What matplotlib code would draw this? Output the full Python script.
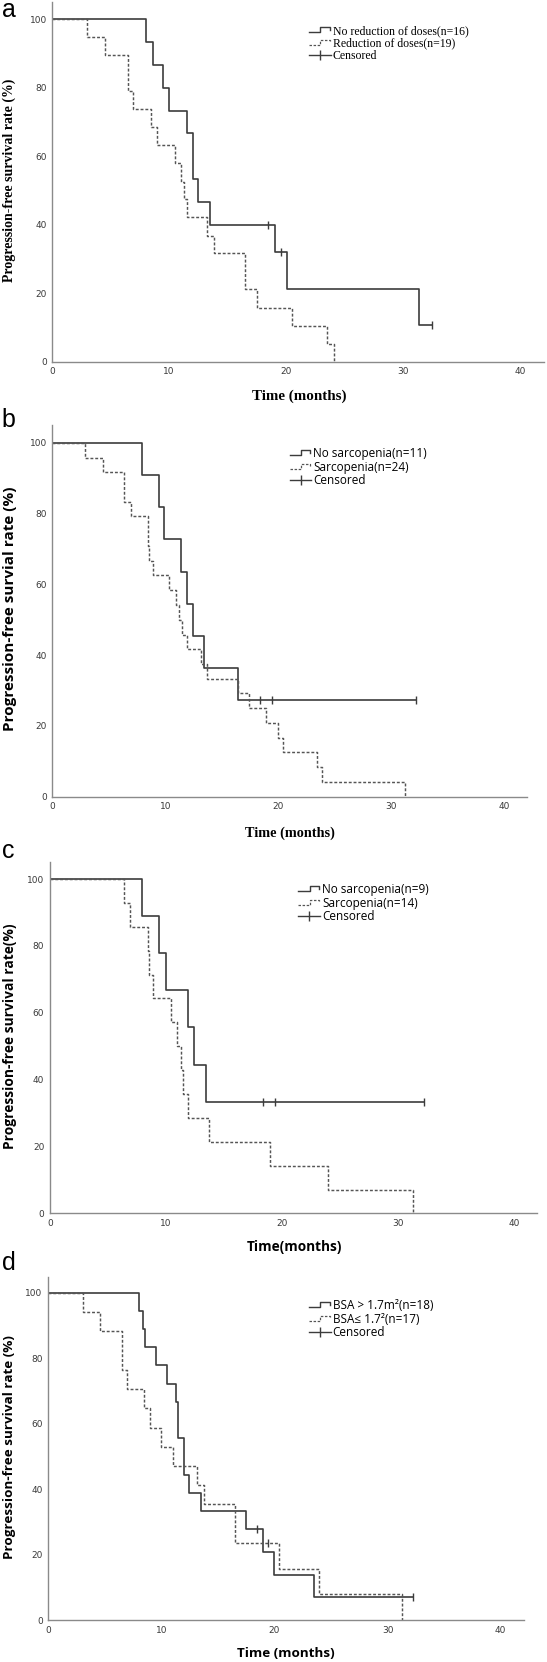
import numpy as np
import matplotlib
matplotlib.use("Agg")
import matplotlib.pyplot as plt
from matplotlib.lines import Line2D
from matplotlib.legend_handler import HandlerBase

# ---- data (months, % surviving) ----
a_solid_t = [0, 8.0, 8.6, 9.45, 10.0, 11.5, 12.0, 12.5, 13.5, 19.05, 20.06, 31.35, 32.45]
a_solid_s = [100, 93.3, 86.7, 80.0, 73.3, 66.7, 53.3, 46.7, 40.0, 32.0, 21.3, 10.7, 10.7]
a_solid_cens = [18.5, 19.55, 32.45]
a_dash_t = [0, 2.94, 4.55, 6.45, 6.93, 8.44, 8.98, 10.5, 11.0, 11.3, 11.5, 13.2, 13.8,
            16.5, 17.5, 20.5, 23.5, 24.1]
a_dash_s = [100, 94.7, 89.5, 78.9, 73.7, 68.4, 63.2, 57.9, 52.6, 47.4, 42.1, 36.8, 31.6,
            21.1, 15.8, 10.5, 5.3, 0]
a_dash_cens = []

b_solid_t = [0, 7.92, 9.44, 9.9, 11.4, 11.95, 12.42, 13.42, 16.4, 32.2]
b_solid_s = [100, 90.9, 81.8, 72.7, 63.6, 54.5, 45.5, 36.4, 27.3, 27.3]
b_solid_cens = [18.4, 19.4, 32.2]
b_dash_t = [0, 2.9, 4.52, 6.37, 6.94, 8.44, 8.56, 8.88, 10.36, 10.95, 11.25, 11.45, 11.9,
            13.13, 13.66, 16.4, 17.43, 18.9, 20.0, 20.45, 23.4, 23.9, 31.25]
b_dash_s = [100, 95.8, 91.7, 83.3, 79.2, 70.8, 66.7, 62.5, 58.3, 54.2, 50.0, 45.8, 41.7,
            37.5, 33.3, 29.2, 25.0, 20.8, 16.7, 12.5, 8.3, 4.2, 0]
b_dash_cens = []

c_solid_t = [0, 7.9, 9.42, 9.96, 11.91, 12.43, 13.4, 32.2]
c_solid_s = [100, 88.9, 77.8, 66.7, 55.6, 44.4, 33.3, 33.3]
c_solid_cens = [18.3, 19.4, 32.2]
c_dash_t = [0, 6.41, 6.9, 8.42, 8.53, 8.9, 10.42, 10.91, 11.25, 11.43, 11.91, 13.72,
            18.94, 23.93, 31.23]
c_dash_s = [100, 92.9, 85.7, 78.6, 71.4, 64.3, 57.1, 50.0, 42.9, 35.7, 28.6, 21.4,
            14.3, 7.1, 0]
c_dash_cens = []

d_solid_t = [0, 8.03, 8.41, 8.56, 9.53, 10.53, 11.3, 11.45, 11.98, 12.48, 13.48, 17.49,
             19.02, 19.96, 23.53, 32.28]
d_solid_s = [100, 94.4, 88.9, 83.3, 77.8, 72.2, 66.7, 55.6, 44.4, 38.9, 33.3, 27.8,
             20.8, 13.9, 6.9, 6.9]
d_solid_cens = [18.49, 32.28]
d_dash_t = [0, 3.05, 4.58, 6.5, 6.94, 8.47, 9.0, 9.97, 11.0, 13.18, 13.78, 16.52, 20.43,
            23.97, 31.31]
d_dash_s = [100, 94.1, 88.2, 76.5, 70.6, 64.7, 58.8, 52.9, 47.1, 41.2, 35.3, 23.5, 15.7,
            7.8, 0]
d_dash_cens = [19.46]

x_ticks = [0, 10, 20, 30, 40]
y_ticks = [0, 20, 40, 60, 80, 100]

a_labels = ["No reduction of doses(n=16)", "Reduction of doses(n=19)", "Censored"]
b_labels = ["No sarcopenia(n=11)", "Sarcopenia(n=24)", "Censored"]
c_labels = ["No sarcopenia(n=9)", "Sarcopenia(n=14)", "Censored"]
d_labels = ["BSA > 1.7m²(n=18)", "BSA≤ 1.7²(n=17)", "Censored"]

SERIF = ["Liberation Serif", "DejaVu Serif"]
SANS = ["Open Sans", "DejaVu Sans"]

W, H = 547, 1662
fig = plt.figure(figsize=(W / 100, H / 100), dpi=100)


def fx(px):
    return px / W


def fy(py):
    return 1 - py / H


class StepHandler(HandlerBase):
    # the little "_|~|" sample that SPSS puts in its survival legends
    def create_artists(self, legend, orig_handle, xdescent, ydescent, width, height,
                       fontsize, trans):
        xs = np.array([0, 0.52, 0.52, 0.95, 0.95]) * width - xdescent
        ys = np.array([0.2, 0.2, 0.8, 0.8, 0.5]) * height - ydescent
        ln = Line2D(xs, ys)
        ln.update_from(orig_handle)
        ln.set_marker("")
        ln.set_linewidth(orig_handle.get_linewidth() * 0.85)
        ln.set_transform(trans)
        return [ln]


def surv_at(t, s, x):
    idx = np.searchsorted(t, x, side="right") - 1
    return np.asarray(s)[idx]


def km_panel(rect, xmax, ymax, solid_t, solid_s, solid_c, dash_t, dash_s, dash_c,
             labels, leg_font, leg_size, leg_anchor, leg_hl):
    ax = fig.add_axes(rect)
    solid_col, dash_col = "#3c3c3c", "#555555"
    l1, = ax.step(solid_t, solid_s, where="post", color=solid_col, lw=1.2)
    l2, = ax.step(dash_t, dash_s, where="post", color=dash_col, lw=1.05,
                  linestyle=(0, (2.0, 1.3)))
    if solid_c:
        ax.plot(solid_c, surv_at(solid_t, solid_s, solid_c), linestyle="none",
                marker="|", ms=5.5, mew=1.0, color=solid_col)
    if dash_c:
        ax.plot(dash_c, surv_at(dash_t, dash_s, dash_c), linestyle="none",
                marker="|", ms=5.5, mew=1.0, color=solid_col)
    cens = Line2D([], [], color=solid_col, lw=1.0, marker="|", ms=7, mew=1.0)
    ax.set_xlim(0, xmax)
    ax.set_ylim(0, ymax)
    ax.set_xticks(x_ticks)
    ax.set_yticks(y_ticks)
    for sp in ["top", "right"]:
        ax.spines[sp].set_visible(False)
    for sp in ["left", "bottom"]:
        ax.spines[sp].set_color("#8a8a8a")
        ax.spines[sp].set_linewidth(1.0)
    ax.tick_params(length=0, pad=4, labelsize=6.5, labelcolor="#3a3a3a")
    ax.legend([l1, l2, cens], labels, loc="upper left",
              bbox_to_anchor=(fx(leg_anchor[0]), fy(leg_anchor[1])),
              bbox_transform=fig.transFigure, frameon=False, borderpad=0,
              borderaxespad=0, handlelength=leg_hl, handletextpad=0.15,
              labelspacing=0.05, numpoints=1,
              handler_map={l1: StepHandler(), l2: StepHandler()},
              prop={"family": leg_font, "size": leg_size})
    return ax


# panel a
km_panel([fx(52.3), fy(361.7), fx(492), 360 / H], 42.1, 105.1,
         a_solid_t, a_solid_s, a_solid_cens, a_dash_t, a_dash_s, a_dash_cens,
         a_labels, SERIF, 8.5, (309, 25), 1.85)
fig.text(fx(9.6), fy(180.8), "Progression-free survival rate (%)", rotation=90,
         ha="center", va="center", family=SERIF, weight="bold", size=10)
fig.text(fx(299), fy(396.7), "Time (months)", ha="center", va="center",
         family=SERIF, weight="bold", size=10.8)
fig.text(fx(1.7), fy(17), "a", ha="left", va="baseline", family="Liberation Sans", size=18)

# panel b
km_panel([fx(52.3), fy(796.7), fx(474.6), 371.7 / H], 42.0, 105.0,
         b_solid_t, b_solid_s, b_solid_cens, b_dash_t, b_dash_s, b_dash_cens,
         b_labels, SANS, 8.5, (289.6, 447), 1.85)
fig.text(fx(9.6), fy(609.2), "Progression-free survial rate (%)", rotation=90,
         ha="center", va="center", family=SANS, weight="bold", size=11)
fig.text(fx(289.6), fy(833.3), "Time (months)", ha="center", va="center",
         family=SERIF, weight="bold", size=10.3)
fig.text(fx(1.7), fy(427), "b", ha="left", va="baseline", family="Liberation Sans", size=18)

# panel c
km_panel([fx(49.9), fy(1213.3), fx(487.4), 351.6 / H], 41.95, 105.2,
         c_solid_t, c_solid_s, c_solid_cens, c_dash_t, c_dash_s, c_dash_cens,
         c_labels, SANS, 8.5, (298.3, 883), 1.85)
fig.text(fx(9.6), fy(1036.7), "Progression-free survival rate(%)", rotation=90,
         ha="center", va="center", family=SANS, weight="bold", size=9.9)
fig.text(fx(294.1), fy(1246.7), "Time(months)", ha="center", va="center",
         family=SANS, weight="bold", size=9.8)
fig.text(fx(1.7), fy(858), "c", ha="left", va="baseline", family="Liberation Sans", size=18)

# panel d
km_panel([fx(48.2), fy(1620), fx(476.2), 343.3 / H], 42.1, 104.9,
         d_solid_t, d_solid_s, d_solid_cens, d_dash_t, d_dash_s, d_dash_cens,
         d_labels, SANS, 8.5, (309, 1299), 1.85)
fig.text(fx(9.6), fy(1446.7), "Progression-free survival rate (%)", rotation=90,
         ha="center", va="center", family=SANS, weight="bold", size=9.7)
fig.text(fx(286.1), fy(1653.3), "Time (months)", ha="center", va="center",
         family=SANS, weight="bold", size=9.7)
fig.text(fx(1.7), fy(1270), "d", ha="left", va="baseline", family="Liberation Sans", size=18)

fig.savefig("out.png", dpi=100)
